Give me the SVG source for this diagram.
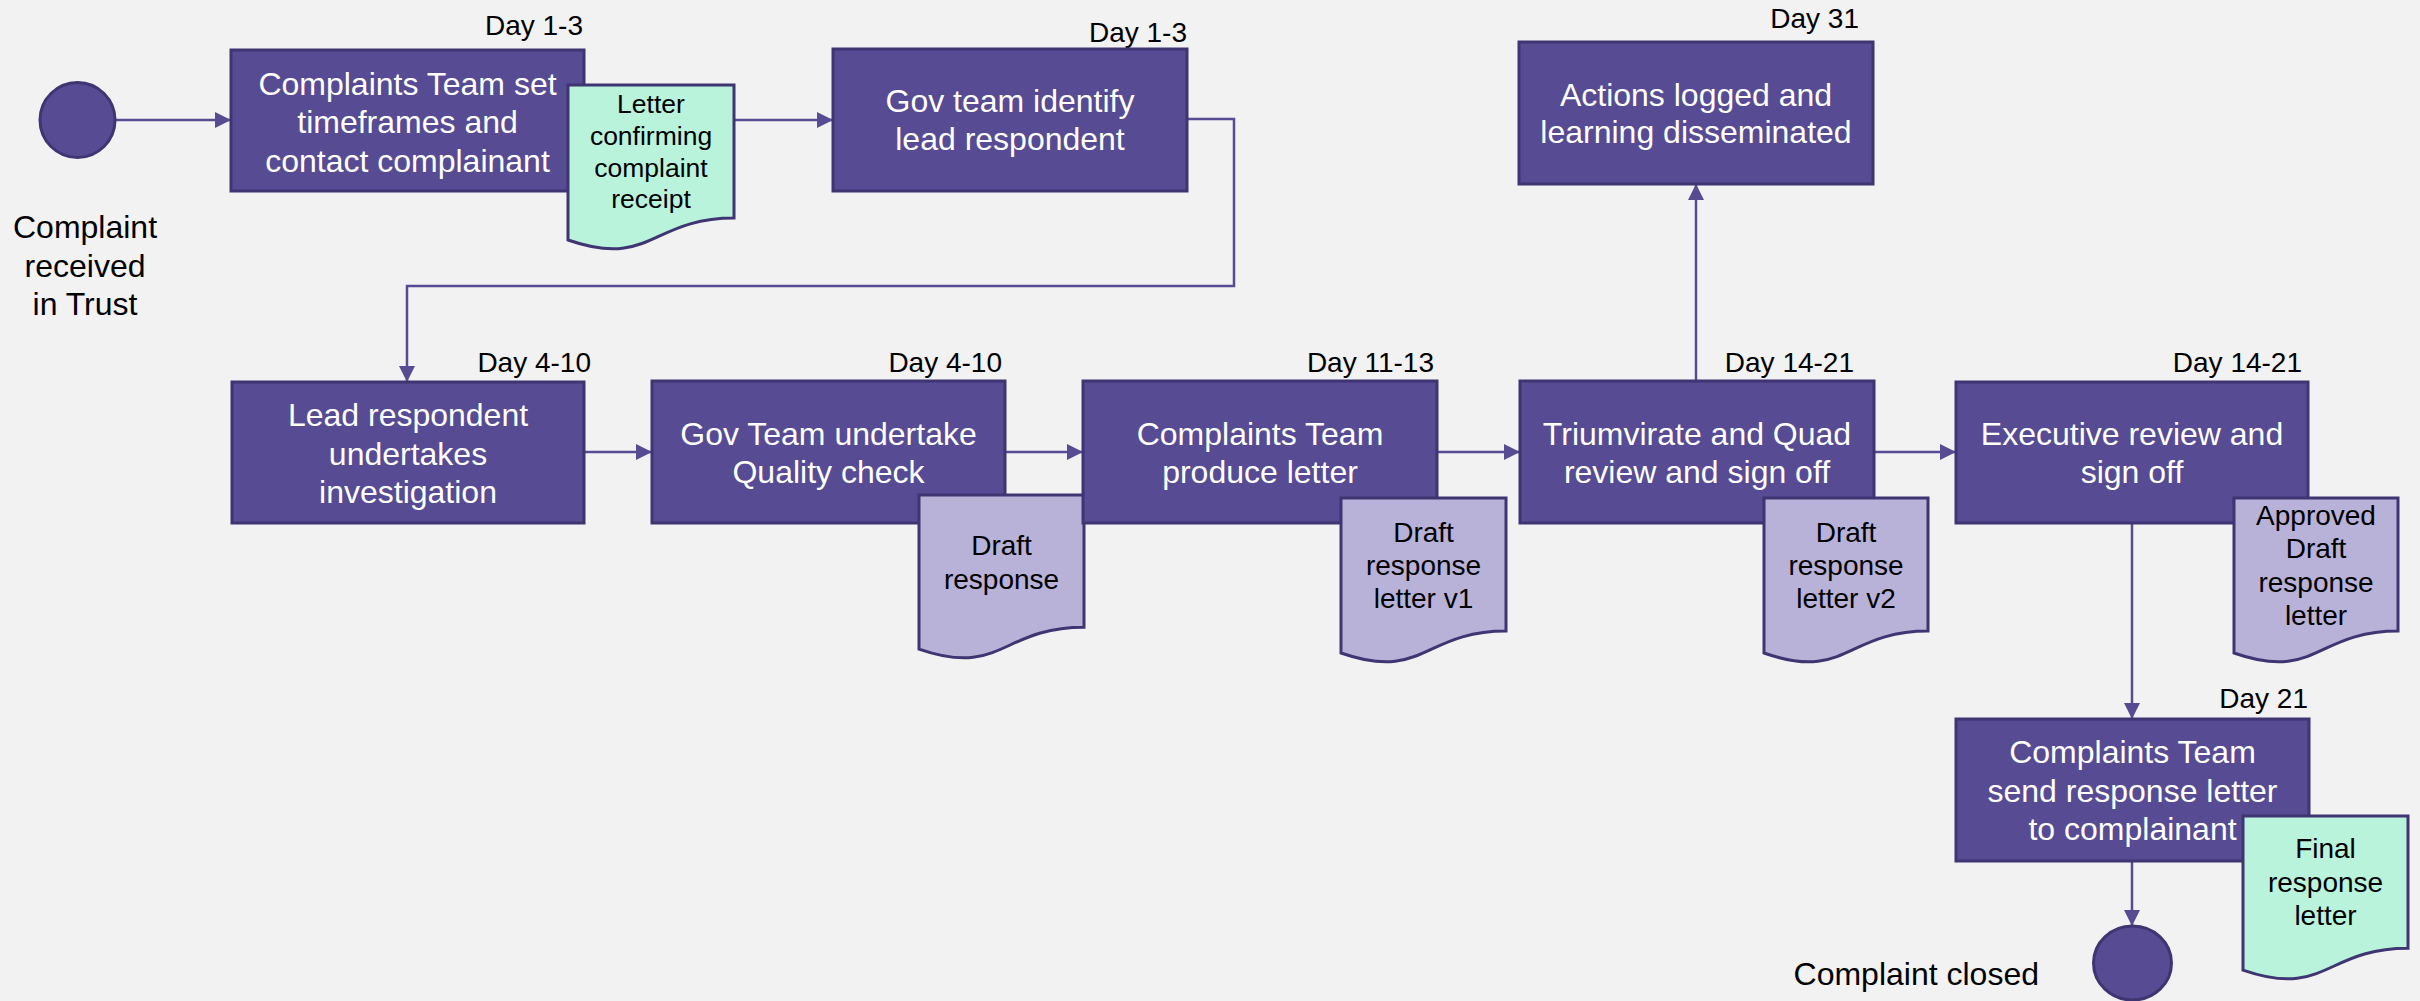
<svg xmlns="http://www.w3.org/2000/svg" width="2420" height="1001" viewBox="0 0 2420 1001">
<style>
.box{fill:#574B94;stroke:#3F3572;stroke-width:3}
.doc{stroke:#3F3572;stroke-width:3}
.draft{fill:#B8B2D8}
.mint{fill:#BAF3DC}
.term{fill:#574B94;stroke:#3F3572;stroke-width:3}
.bt{font-family:"Liberation Sans",Arial,sans-serif;font-size:32px;fill:#FFFFFF;text-anchor:middle}
.dt{font-family:"Liberation Sans",Arial,sans-serif;font-size:28px;fill:#000000;text-anchor:middle}
.day{font-family:"Liberation Sans",Arial,sans-serif;font-size:28px;fill:#000000;text-anchor:end}
.lbl{font-family:"Liberation Sans",Arial,sans-serif;font-size:32px;fill:#000000}
.con{fill:none;stroke:#574B94;stroke-width:2.5;marker-end:url(#ah)}
</style>
<defs>
<marker id="ah" markerUnits="userSpaceOnUse" markerWidth="16" markerHeight="16" refX="16" refY="8" orient="auto">
<path d="M0,0 L16,8 L0,16 Z" fill="#574B94"/>
</marker>
</defs>
<rect x="0" y="0" width="2420" height="1001" fill="#F2F2F2"/>

<g id="connectors">
<path class="con" d="M116,120 H231"/>
<path class="con" d="M734,120 H833"/>
<path class="con" d="M1187,119 H1234 V286 H407 V382"/>
<path class="con" d="M584,452 H652"/>
<path class="con" d="M1005,452 H1083"/>
<path class="con" d="M1437,452 H1520"/>
<path class="con" d="M1874,452 H1956"/>
<path class="con" d="M1696,381 V184"/>
<path class="con" d="M2132,523 V719"/>
<path class="con" d="M2132,861 V926"/>
</g>

<g id="start">
<circle class="term" cx="77.5" cy="120" r="37.5"/>
<text class="lbl" text-anchor="middle"><tspan x="85" y="238">Complaint</tspan><tspan x="85" y="277">received</tspan><tspan x="85" y="315">in Trust</tspan></text>
</g>

<g id="set-timeframes">
<text class="day" x="583" y="35">Day 1-3</text>
<rect class="box" x="231" y="50" width="353" height="141"/>
<text class="bt"><tspan x="407.5" y="94.5">Complaints Team set</tspan><tspan x="407.5" y="133">timeframes and</tspan><tspan x="407.5" y="171.5">contact complainant</tspan></text>
</g>

<g id="doc-letter-confirming">
<path class="doc mint" d="M568,85 H734 V218.1 C651,218.1 651,268.8 568,240 Z"/>
<text class="dt" style="font-size:26.5px"><tspan x="651" y="113">Letter</tspan><tspan x="651" y="145">confirming</tspan><tspan x="651" y="177">complaint</tspan><tspan x="651" y="208">receipt</tspan></text>
</g>

<g id="identify-lead">
<text class="day" x="1187" y="42">Day 1-3</text>
<rect class="box" x="833" y="49" width="354" height="142"/>
<text class="bt"><tspan x="1010" y="112">Gov team identify</tspan><tspan x="1010" y="150">lead respondent</tspan></text>
</g>

<g id="actions-logged">
<text class="day" x="1859" y="28">Day 31</text>
<rect class="box" x="1519" y="42" width="354" height="142"/>
<text class="bt"><tspan x="1696" y="106">Actions logged and</tspan><tspan x="1696" y="143">learning disseminated</tspan></text>
</g>

<g id="lead-investigation">
<text class="day" x="591" y="372">Day 4-10</text>
<rect class="box" x="232" y="382" width="352" height="141"/>
<text class="bt"><tspan x="408" y="426">Lead respondent</tspan><tspan x="408" y="465">undertakes</tspan><tspan x="408" y="503">investigation</tspan></text>
</g>

<g id="quality-check">
<text class="day" x="1002" y="372">Day 4-10</text>
<rect class="box" x="652" y="381" width="353" height="142"/>
<text class="bt"><tspan x="828.5" y="445">Gov Team undertake</tspan><tspan x="828.5" y="483">Quality check</tspan></text>
</g>

<g id="doc-draft-response">
<path class="doc draft" d="M919,495 H1084 V627.3 C1001.5,627.3 1001.5,677.7 919,649.1 Z"/>
<text class="dt"><tspan x="1001.5" y="555">Draft</tspan><tspan x="1001.5" y="589">response</tspan></text>
</g>

<g id="produce-letter">
<text class="day" x="1434" y="372">Day 11-13</text>
<rect class="box" x="1083" y="381" width="354" height="142"/>
<text class="bt"><tspan x="1260" y="445">Complaints Team</tspan><tspan x="1260" y="483">produce letter</tspan></text>
</g>

<g id="doc-draft-v1">
<path class="doc draft" d="M1341,498 H1506 V631.1 C1423.5,631.1 1423.5,681.8 1341,653 Z"/>
<text class="dt"><tspan x="1423.5" y="542">Draft</tspan><tspan x="1423.5" y="575">response</tspan><tspan x="1423.5" y="608">letter v1</tspan></text>
</g>

<g id="triumvirate-review">
<text class="day" x="1854" y="372">Day 14-21</text>
<rect class="box" x="1520" y="381" width="354" height="142"/>
<text class="bt"><tspan x="1697" y="445">Triumvirate and Quad</tspan><tspan x="1697" y="483">review and sign off</tspan></text>
</g>

<g id="doc-draft-v2">
<path class="doc draft" d="M1764,498 H1928 V631.1 C1846,631.1 1846,681.8 1764,653 Z"/>
<text class="dt"><tspan x="1846" y="542">Draft</tspan><tspan x="1846" y="575">response</tspan><tspan x="1846" y="608">letter v2</tspan></text>
</g>

<g id="executive-review">
<text class="day" x="2302" y="372">Day 14-21</text>
<rect class="box" x="1956" y="382" width="352" height="141"/>
<text class="bt"><tspan x="2132" y="445">Executive review and</tspan><tspan x="2132" y="483">sign off</tspan></text>
</g>

<g id="doc-approved-draft">
<path class="doc draft" d="M2234,498 H2398 V631.1 C2316,631.1 2316,681.8 2234,653 Z"/>
<text class="dt"><tspan x="2316" y="525">Approved</tspan><tspan x="2316" y="558">Draft</tspan><tspan x="2316" y="592">response</tspan><tspan x="2316" y="625">letter</tspan></text>
</g>

<g id="send-response">
<text class="day" x="2308" y="708">Day 21</text>
<rect class="box" x="1956" y="719" width="353" height="142"/>
<text class="bt"><tspan x="2132.5" y="763">Complaints Team</tspan><tspan x="2132.5" y="802">send response letter</tspan><tspan x="2132.5" y="840">to complainant</tspan></text>
</g>

<g id="doc-final-letter">
<path class="doc mint" d="M2243,816 H2408 V948.3 C2325.5,948.3 2325.5,998.7 2243,970.1 Z"/>
<text class="dt"><tspan x="2325.5" y="858">Final</tspan><tspan x="2325.5" y="892">response</tspan><tspan x="2325.5" y="925">letter</tspan></text>
</g>

<g id="end">
<ellipse class="term" cx="2132.5" cy="963" rx="39" ry="37"/>
<text class="lbl" text-anchor="end" x="2039" y="985">Complaint closed</text>
</g>
</svg>
